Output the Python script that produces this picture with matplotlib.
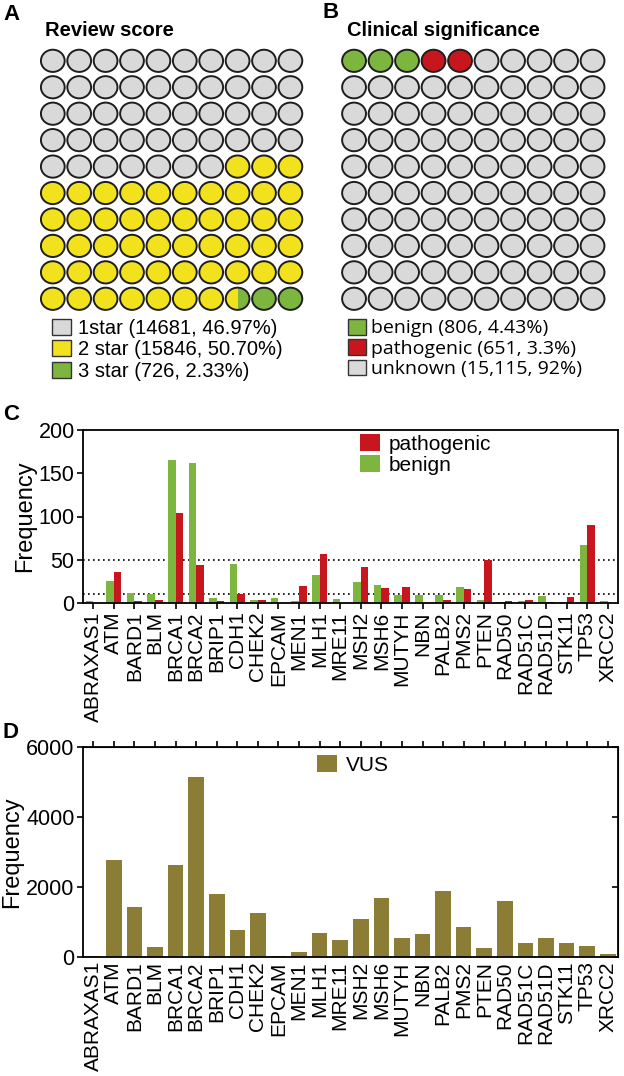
import numpy as np
import matplotlib
matplotlib.use("Agg")
import matplotlib.pyplot as plt
from matplotlib.patches import Ellipse, Rectangle, Patch

plt.rcParams["font.family"] = ["Liberation Sans", "DejaVu Sans"]

GREY = "#d9d9d9"
YELLOW = "#f2e21e"
GREEN = "#7db63f"
RED = "#c8161e"
OLIVE = "#8b7d36"
EDGE = "#1e1e1e"

# panel A: review score waffle (cells out of 100)
review_labels = ["1star (14681, 46.97%)", "2 star (15846, 50.70%)", "3 star (726, 2.33%)"]
review_cells = [47, 50.5, 2.5]
review_colors = [GREY, YELLOW, GREEN]

# panel B: clinical significance waffle
clin_labels = ["benign (806, 4.43%)", "pathogenic (651, 3.3%)", "unknown (15,115, 92%)"]
clin_cells = [3, 2, 95]
clin_colors = [GREEN, RED, GREY]

# panels C/D
genes = ["ABRAXAS1", "ATM", "BARD1", "BLM", "BRCA1", "BRCA2", "BRIP1", "CDH1",
         "CHEK2", "EPCAM", "MEN1", "MLH1", "MRE11", "MSH2", "MSH6", "MUTYH",
         "NBN", "PALB2", "PMS2", "PTEN", "RAD50", "RAD51C", "RAD51D", "STK11",
         "TP53", "XRCC2"]
benign = [2, 25, 11, 10, 165, 162, 6, 45, 3, 6, 2, 32, 5, 24, 21, 9,
          9, 9, 19, 4, 1.5, 2.5, 8.5, 1.5, 67, 2.5]
pathogenic = [0, 36, 2, 3, 104, 44, 2, 10, 3, 0, 20, 57, 0, 42, 17, 19,
              0, 3, 16, 50, 2.5, 4, 1.5, 6.5, 90, 0]
vus = [30, 2770, 1420, 300, 2640, 5130, 1800, 780, 1270, 40, 130, 690, 500,
       1100, 1680, 530, 660, 1900, 860, 250, 1590, 410, 530, 400, 320, 100]

W, H = 624, 1076
fig = plt.figure(figsize=(W / 100, H / 100), dpi=100)


def fx(px):
    return px / W


def fy(py):
    return 1 - py / H


def waffle(ax, cells, colors):
    bounds = np.cumsum(cells)
    ew, eh = 0.9, 0.84
    for i in range(100):
        r, c = divmod(i, 10)
        left = colors[np.searchsorted(bounds, i + 0.25, side="right")]
        right = colors[np.searchsorted(bounds, i + 0.75, side="right")]
        ax.add_patch(Ellipse((c, r), ew, eh, facecolor=left, edgecolor="none"))
        if right != left:
            half = Ellipse((c, r), ew, eh, facecolor=right, edgecolor="none")
            ax.add_patch(half)
            half.set_clip_path(Rectangle((c, r - 0.5), 0.5, 1, transform=ax.transData))
        ax.add_patch(Ellipse((c, r), ew, eh, facecolor="none", edgecolor=EDGE, lw=1.4))
    ax.set_xlim(-0.5, 9.5)
    ax.set_ylim(9.5, -0.5)
    ax.axis("off")


axa = fig.add_axes([fx(39.6), fy(312), fx(264), 264.4 / H])
waffle(axa, review_cells, review_colors)
axb = fig.add_axes([fx(340.8), fy(312), fx(265), 264.4 / H])
waffle(axb, clin_cells, clin_colors)

h_a = [Patch(facecolor=c, edgecolor="#333333", lw=1) for c in review_colors]
fig.legend(h_a, review_labels, loc="upper left", bbox_to_anchor=(fx(52), fy(319)),
           frameon=False, fontsize=14.5, handlelength=0.95, handleheight=0.85,
           handletextpad=0.35, labelspacing=0.12, borderpad=0, borderaxespad=0)
h_b = [Patch(facecolor=c, edgecolor="#333333", lw=1) for c in clin_colors]
fig.legend(h_b, clin_labels, loc="upper left", bbox_to_anchor=(fx(348), fy(319)),
           frameon=False, handlelength=0.95, handleheight=0.85,
           handletextpad=0.25, labelspacing=0.1, borderpad=0, borderaxespad=0,
           prop={"family": "Open Sans", "size": 14})

fig.text(fx(3), fy(15), "A", fontsize=16, weight="bold", va="center")
fig.text(fx(322), fy(13), "B", fontsize=16, weight="bold", va="center")
fig.text(fx(3), fy(414), "C", fontsize=16, weight="bold", va="center")
fig.text(fx(3), fy(733), "D", fontsize=16, weight="bold", va="center")
fig.text(fx(45), fy(30), "Review score", fontsize=14.5, weight="bold", va="center")
fig.text(fx(347), fy(30), "Clinical significance", fontsize=14.5, weight="bold", va="center")

x = np.arange(len(genes))

# panel C
axc = fig.add_axes([fx(83), fy(603), fx(535), 173 / H])
w = 0.37
bb = axc.bar(x - w / 2, benign, w, color=GREEN, label="benign", zorder=2)
bp = axc.bar(x + w / 2, pathogenic, w, color=RED, label="pathogenic", zorder=2)
for lvl in (50, 10):
    axc.axhline(lvl, color="k", ls=(0, (1, 2)), lw=1.2, zorder=1)
axc.set_xlim(-0.5, len(genes) - 0.5)
axc.set_ylim(0, 200)
axc.set_yticks([0, 50, 100, 150, 200])
axc.set_xticks(x)
axc.set_xticklabels(genes, rotation=90, fontsize=15)
axc.tick_params(axis="y", labelsize=15.5, length=4, width=1.2, pad=2)
axc.tick_params(axis="x", length=4, width=1.2, pad=2)
axc.set_ylabel("Frequency", fontsize=17, labelpad=2)
for s in axc.spines.values():
    s.set_linewidth(1.3)
axc.legend([bp, bb], ["pathogenic", "benign"], loc="upper left",
           bbox_to_anchor=(fx(360), fy(434)), bbox_transform=fig.transFigure,
           frameon=False, fontsize=15, handlelength=0.95, handleheight=0.9,
           handletextpad=0.45, labelspacing=0.05, borderpad=0, borderaxespad=0)

# panel D
axd = fig.add_axes([fx(83), fy(957), fx(535), 210 / H])
bv = axd.bar(x, vus, 0.76, color=OLIVE, label="VUS")
axd.set_xlim(-0.5, len(genes) - 0.5)
axd.set_ylim(0, 6000)
axd.set_yticks([0, 2000, 4000, 6000])
axd.set_xticks(x)
axd.set_xticklabels(genes, rotation=90, fontsize=15)
axd.tick_params(axis="y", labelsize=15.5, length=4, width=1.2, pad=2)
axd.tick_params(axis="x", length=0, pad=3)
axd.set_ylabel("Frequency", fontsize=17, labelpad=2)
for s in axd.spines.values():
    s.set_linewidth(1.3)
top = axd.secondary_xaxis("top")
top.set_xticks(x)
top.set_xticklabels([])
top.tick_params(length=4, width=1.2, direction="out")
right = axd.secondary_yaxis("right")
right.set_yticks([0, 2000, 4000, 6000])
right.set_yticklabels([])
right.tick_params(length=4, width=1.2, direction="in")
axd.legend([bv], ["VUS"], loc="upper left",
           bbox_to_anchor=(fx(317), fy(755)), bbox_transform=fig.transFigure,
           frameon=False, fontsize=15, handlelength=0.95, handleheight=0.9,
           handletextpad=0.45, borderpad=0, borderaxespad=0)

fig.savefig("out.png", dpi=100)
